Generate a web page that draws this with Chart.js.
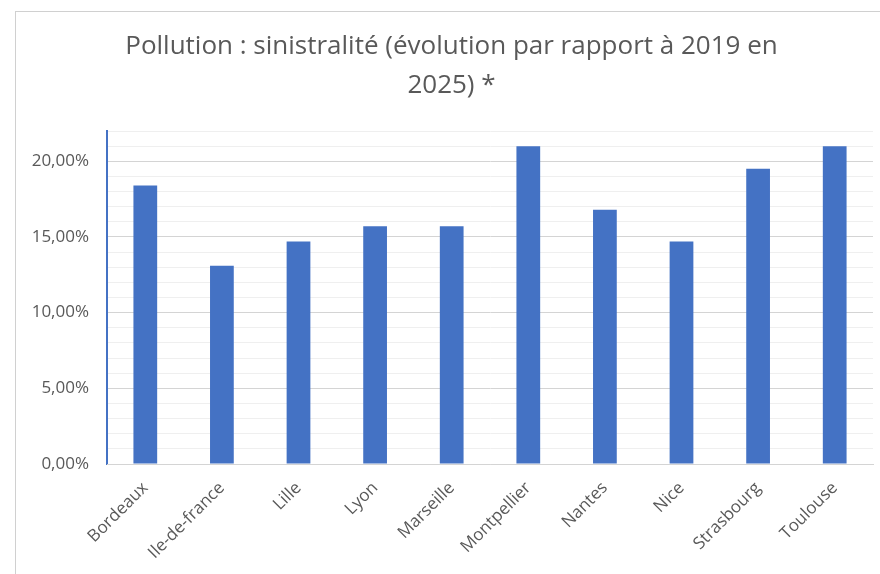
<!DOCTYPE html>
<html>
<head>
<meta charset="utf-8">
<script src="https://cdn.jsdelivr.net/npm/chart.js@4"></script>
<style>
  html, body { margin: 0; padding: 0; background: #fff; }
  #wrap { position: relative; width: 880px; height: 574px; }
  #frame { position: absolute; left: 15px; top: 11px; width: 900px; height: 600px;
           border-left: 1px solid #d0d0d0; border-top: 1px solid #d0d0d0; }
  canvas { position: absolute; left: 0; top: 0; }
</style>
</head>
<body>
<div id="wrap">
  <div id="frame"></div>
  <canvas id="chart" width="880" height="574"></canvas>
</div>
<script>
const cities = ["Bordeaux", "Ile-de-france", "Lille", "Lyon", "Marseille",
  "Montpellier", "Nantes", "Nice", "Strasbourg", "Toulouse"];
const evolution = [18.4, 13.1, 14.7, 15.7, 15.7, 21.0, 16.8, 14.7, 19.5, 21.0];
const titleLines = ["Pollution : sinistralité (évolution par rapport à 2019 en", "2025) *"];

const gray = "#595959";
const font = "'Open Sans', 'Liberation Sans', sans-serif";

new Chart(document.getElementById("chart"), {
  type: "bar",
  data: {
    labels: cities,
    datasets: [{
      data: evolution,
      backgroundColor: "#4472C4",
      barPercentage: 0.62,
      categoryPercentage: 0.5
    }]
  },
  options: {
    responsive: false,
    animation: false,
    layout: { padding: { left: 30, right: 7, top: 0, bottom: 0 } },
    plugins: {
      legend: { display: false },
      tooltip: { enabled: false },
      title: {
        display: true,
        text: titleLines,
        color: gray,
        font: { family: font, size: 26, weight: "normal", lineHeight: 1.5 },
        padding: { top: 27, bottom: 26 }
      }
    },
    scales: {
      y: {
        min: 0,
        max: 22,
        afterFit: s => { s.width = 77; },
        border: { color: "#4472C4", width: 2 },
        grid: {
          drawTicks: false,
          color: ctx => (ctx.tick.value % 5 === 0 ? "#d4d4d4" : "#efefef"),
          lineWidth: 1
        },
        ticks: {
          stepSize: 1,
          autoSkip: false,
          padding: 18,
          color: gray,
          font: { family: font, size: 17 },
          callback: v => (v % 5 === 0 ? v.toFixed(2).replace(".", ",") + "%" : "")
        }
      },
      x: {
        afterFit: s => { s.height = 110; },
        border: { color: "#d4d4d4", width: 1 },
        grid: { display: false },
        ticks: {
          minRotation: 45,
          maxRotation: 45,
          autoSkip: false,
          padding: 6,
          color: gray,
          font: { family: font, size: 17 }
        }
      }
    }
  }
});
</script>
</body>
</html>
